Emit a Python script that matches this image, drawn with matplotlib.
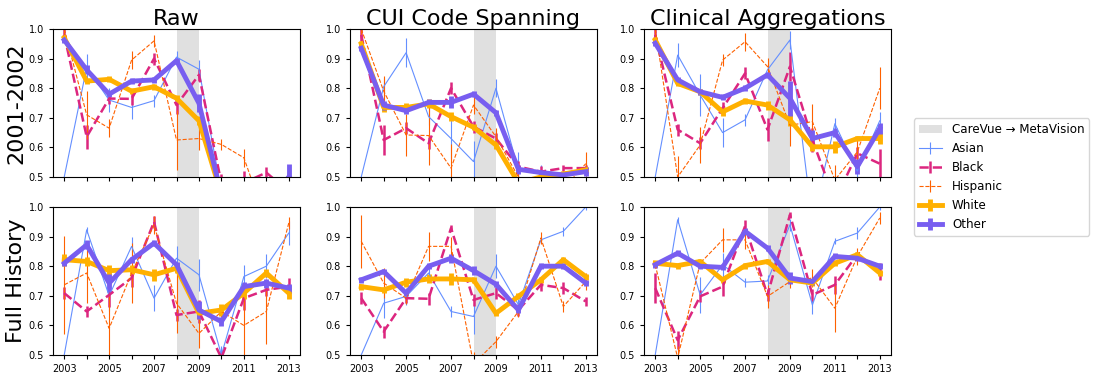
import matplotlib
matplotlib.use("Agg")
import matplotlib.pyplot as plt

years = list(range(2003, 2014))
groups = ["Asian", "Black", "Hispanic", "White", "Other"]
col_titles = ["Raw", "CUI Code Spanning", "Clinical Aggregations"]
row_titles = ["2001-2002", "Full History"]
shift_label = "CareVue \u2192 MetaVision"
shift_years = (2008, 2009)

# values per panel (row, col) -> group
raw_early = {
	"Asian":    [0.50, 0.87, 0.76, 0.735, 0.758, 0.905, 0.864, 0.45, 0.40, 0.40, 0.40],
	"Black":    [0.98, 0.636, 0.765, 0.764, 0.90, 0.743, 0.845, 0.48, 0.48, 0.515, 0.45],
	"Hispanic": [1.00, 0.71, 0.665, 0.895, 0.96, 0.625, 0.63, 0.61, 0.565, 0.35, 0.40],
	"White":    [0.97, 0.824, 0.83, 0.79, 0.805, 0.766, 0.69, 0.44, 0.40, 0.40, 0.40],
	"Other":    [0.963, 0.862, 0.78, 0.824, 0.828, 0.893, 0.749, 0.44, 0.40, 0.40, 0.50],
}
raw_early_err = {
	"Asian":    [0.0, 0.045, 0.04, 0.04, 0.02, 0.02, 0.03, 0.05, 0.05, 0.05, 0.05],
	"Black":    [0.02, 0.04, 0.02, 0.02, 0.02, 0.03, 0.02, 0.03, 0.04, 0.02, 0.03],
	"Hispanic": [0.02, 0.08, 0.03, 0.03, 0.02, 0.10, 0.04, 0.02, 0.03, 0.05, 0.05],
	"White":    [0.01, 0.01, 0.01, 0.01, 0.01, 0.01, 0.015, 0.02, 0.02, 0.02, 0.02],
	"Other":    [0.01, 0.015, 0.01, 0.01, 0.01, 0.01, 0.03, 0.02, 0.02, 0.02, 0.045],
}
cui_early = {
	"Asian":    [0.50, 0.805, 0.92, 0.704, 0.63, 0.552, 0.80, 0.524, 0.51, 0.507, 0.518],
	"Black":    [0.98, 0.625, 0.665, 0.614, 0.80, 0.67, 0.63, 0.535, 0.518, 0.53, 0.53],
	"Hispanic": [1.00, 0.79, 0.642, 0.64, 0.53, 0.743, 0.636, 0.50, 0.47, 0.46, 0.545],
	"White":    [0.95, 0.735, 0.735, 0.747, 0.704, 0.668, 0.608, 0.48, 0.50, 0.51, 0.524],
	"Other":    [0.935, 0.743, 0.724, 0.752, 0.752, 0.78, 0.717, 0.526, 0.515, 0.507, 0.518],
}
cui_early_err = {
	"Asian":    [0.0, 0.03, 0.05, 0.03, 0.07, 0.07, 0.03, 0.06, 0.03, 0.03, 0.03],
	"Black":    [0.02, 0.05, 0.02, 0.02, 0.02, 0.02, 0.02, 0.02, 0.02, 0.01, 0.01],
	"Hispanic": [0.02, 0.05, 0.07, 0.10, 0.08, 0.03, 0.03, 0.02, 0.02, 0.02, 0.04],
	"White":    [0.01, 0.015, 0.015, 0.015, 0.015, 0.01, 0.015, 0.01, 0.01, 0.01, 0.01],
	"Other":    [0.01, 0.015, 0.01, 0.01, 0.02, 0.01, 0.01, 0.015, 0.01, 0.01, 0.015],
}
clin_early = {
	"Asian":    [0.50, 0.912, 0.777, 0.65, 0.693, 0.862, 0.963, 0.35, 0.68, 0.52, 0.69],
	"Black":    [0.98, 0.66, 0.614, 0.732, 0.85, 0.66, 0.873, 0.625, 0.42, 0.58, 0.545],
	"Hispanic": [1.00, 0.50, 0.608, 0.895, 0.957, 0.873, 0.675, 0.687, 0.49, 0.585, 0.80],
	"White":    [0.963, 0.816, 0.788, 0.72, 0.757, 0.743, 0.693, 0.602, 0.602, 0.63, 0.63],
	"Other":    [0.952, 0.828, 0.788, 0.769, 0.80, 0.845, 0.766, 0.63, 0.65, 0.535, 0.664],
}
clin_early_err = {
	"Asian":    [0.0, 0.04, 0.07, 0.05, 0.02, 0.02, 0.03, 0.05, 0.02, 0.02, 0.03],
	"Black":    [0.02, 0.02, 0.02, 0.02, 0.02, 0.04, 0.05, 0.04, 0.04, 0.02, 0.05],
	"Hispanic": [0.02, 0.07, 0.06, 0.02, 0.03, 0.03, 0.07, 0.06, 0.05, 0.04, 0.07],
	"White":    [0.01, 0.01, 0.01, 0.015, 0.01, 0.015, 0.02, 0.015, 0.02, 0.01, 0.02],
	"Other":    [0.01, 0.01, 0.01, 0.01, 0.01, 0.01, 0.06, 0.03, 0.015, 0.025, 0.02],
}
raw_full = {
	"Asian":    [0.50, 0.923, 0.70, 0.867, 0.692, 0.827, 0.771, 0.50, 0.765, 0.80, 0.912],
	"Black":    [0.709, 0.647, 0.703, 0.76, 0.95, 0.635, 0.647, 0.49, 0.692, 0.72, 0.731],
	"Hispanic": [0.737, 0.777, 0.59, 0.777, 0.94, 0.675, 0.573, 0.647, 0.60, 0.647, 0.946],
	"White":    [0.822, 0.816, 0.785, 0.788, 0.771, 0.793, 0.641, 0.652, 0.709, 0.777, 0.709],
	"Other":    [0.81, 0.872, 0.743, 0.822, 0.878, 0.805, 0.652, 0.613, 0.731, 0.743, 0.726],
}
raw_full_err = {
	"Asian":    [0.0, 0.01, 0.05, 0.03, 0.045, 0.04, 0.055, 0.03, 0.04, 0.04, 0.04],
	"Black":    [0.02, 0.02, 0.04, 0.03, 0.02, 0.02, 0.04, 0.02, 0.04, 0.02, 0.03],
	"Hispanic": [0.166, 0.10, 0.11, 0.10, 0.03, 0.10, 0.05, 0.02, 0.14, 0.11, 0.02],
	"White":    [0.02, 0.015, 0.02, 0.015, 0.02, 0.015, 0.02, 0.02, 0.02, 0.015, 0.02],
	"Other":    [0.01, 0.015, 0.03, 0.01, 0.01, 0.01, 0.03, 0.015, 0.015, 0.015, 0.015],
}
cui_full = {
	"Asian":    [0.50, 0.675, 0.698, 0.777, 0.647, 0.63, 0.80, 0.67, 0.889, 0.918, 1.00],
	"Black":    [0.692, 0.579, 0.692, 0.69, 0.929, 0.686, 0.709, 0.652, 0.737, 0.726, 0.681],
	"Hispanic": [0.884, 0.743, 0.692, 0.867, 0.867, 0.47, 0.545, 0.647, 0.895, 0.664, 0.748],
	"White":    [0.731, 0.72, 0.746, 0.757, 0.757, 0.754, 0.641, 0.698, 0.754, 0.822, 0.765],
	"Other":    [0.754, 0.782, 0.709, 0.80, 0.827, 0.785, 0.739, 0.652, 0.80, 0.80, 0.743],
}
cui_full_err = {
	"Asian":    [0.0, 0.05, 0.03, 0.02, 0.02, 0.06, 0.04, 0.02, 0.01, 0.015, 0.01],
	"Black":    [0.02, 0.02, 0.015, 0.02, 0.01, 0.02, 0.02, 0.02, 0.02, 0.02, 0.015],
	"Hispanic": [0.09, 0.05, 0.02, 0.05, 0.03, 0.04, 0.02, 0.02, 0.02, 0.02, 0.03],
	"White":    [0.01, 0.01, 0.015, 0.015, 0.02, 0.01, 0.01, 0.01, 0.01, 0.01, 0.01],
	"Other":    [0.01, 0.01, 0.01, 0.01, 0.015, 0.015, 0.01, 0.01, 0.01, 0.01, 0.01],
}
clin_full = {
	"Asian":    [0.50, 0.957, 0.703, 0.805, 0.746, 0.75, 0.94, 0.669, 0.884, 0.912, 1.00],
	"Black":    [0.726, 0.55, 0.698, 0.731, 0.935, 0.703, 0.974, 0.703, 0.737, 0.839, 0.782],
	"Hispanic": [0.805, 0.49, 0.81, 0.889, 0.889, 0.698, 0.748, 0.76, 0.658, 0.833, 0.963],
	"White":    [0.81, 0.802, 0.816, 0.754, 0.802, 0.816, 0.754, 0.743, 0.81, 0.839, 0.777],
	"Other":    [0.805, 0.844, 0.80, 0.796, 0.918, 0.861, 0.76, 0.748, 0.833, 0.827, 0.80],
}
clin_full_err = {
	"Asian":    [0.0, 0.01, 0.06, 0.04, 0.015, 0.02, 0.02, 0.03, 0.01, 0.02, 0.01],
	"Black":    [0.05, 0.03, 0.02, 0.03, 0.02, 0.02, 0.01, 0.02, 0.03, 0.01, 0.03],
	"Hispanic": [0.01, 0.04, 0.01, 0.04, 0.03, 0.04, 0.02, 0.03, 0.08, 0.03, 0.02],
	"White":    [0.01, 0.01, 0.01, 0.01, 0.01, 0.01, 0.01, 0.01, 0.01, 0.01, 0.01],
	"Other":    [0.01, 0.01, 0.01, 0.01, 0.01, 0.01, 0.02, 0.01, 0.01, 0.01, 0.01],
}

panels = [
	[(raw_early, raw_early_err), (cui_early, cui_early_err), (clin_early, clin_early_err)],
	[(raw_full, raw_full_err), (cui_full, cui_full_err), (clin_full, clin_full_err)],
]

styles = {
	"Asian":    dict(color="#648FFF", lw=0.8, ls="-"),
	"Black":    dict(color="#DC267F", lw=1.8, ls="--"),
	"Hispanic": dict(color="#FE6100", lw=0.8, ls="--"),
	"White":    dict(color="#FFB000", lw=3.5, ls="-"),
	"Other":    dict(color="#785EF0", lw=3.5, ls="-"),
}


def draw_panel(ax, values, errors, show_xlabels):
	ax.axvspan(shift_years[0], shift_years[1], color="#e0e0e0", lw=0, label=shift_label)
	for g in groups:
		s = styles[g]
		ax.errorbar(years, values[g], yerr=errors[g], color=s["color"], lw=s["lw"],
			ls=s["ls"], elinewidth=s["lw"] if s["lw"] > 1 else 0.8, capsize=0, label=g)
	ax.set_ylim(0.5, 1.0)
	ax.set_xlim(2002.5, 2013.5)
	ax.set_yticks([0.5, 0.6, 0.7, 0.8, 0.9, 1.0])
	ax.set_xticks(years)
	if show_xlabels:
		ax.set_xticklabels([str(y) if y % 2 == 1 else "" for y in years])
	else:
		ax.set_xticklabels([])
	ax.tick_params(labelsize=7, length=3)


def main():
	fig = plt.figure(figsize=(10.95, 3.79), dpi=100)
	lefts = [53 / 1095, 350 / 1095, 644 / 1095]
	bottoms = [1 - 177 / 379, 1 - 355 / 379]
	w = 247 / 1095
	h = 148 / 379
	axes = []
	for r in range(2):
		for c in range(3):
			ax = fig.add_axes([lefts[c], bottoms[r], w, h])
			vals, errs = panels[r][c]
			draw_panel(ax, vals, errs, r == 1)
			if r == 0:
				ax.set_title(col_titles[c], fontsize=16, pad=3)
			axes.append(ax)
		# row label sits at the far left of the figure
		fig.text(16 / 1095, bottoms[r] + h / 2, row_titles[r], rotation=90,
			fontsize=16, ha="center", va="center")

	handles, labels = axes[0].get_legend_handles_labels()
	fig.legend(handles, labels, loc="center left", bbox_to_anchor=(0.829, 0.533),
		fontsize=8.6, handlelength=2.0)
	fig.savefig("out.png", dpi=100)


if __name__ == "__main__":
	main()
